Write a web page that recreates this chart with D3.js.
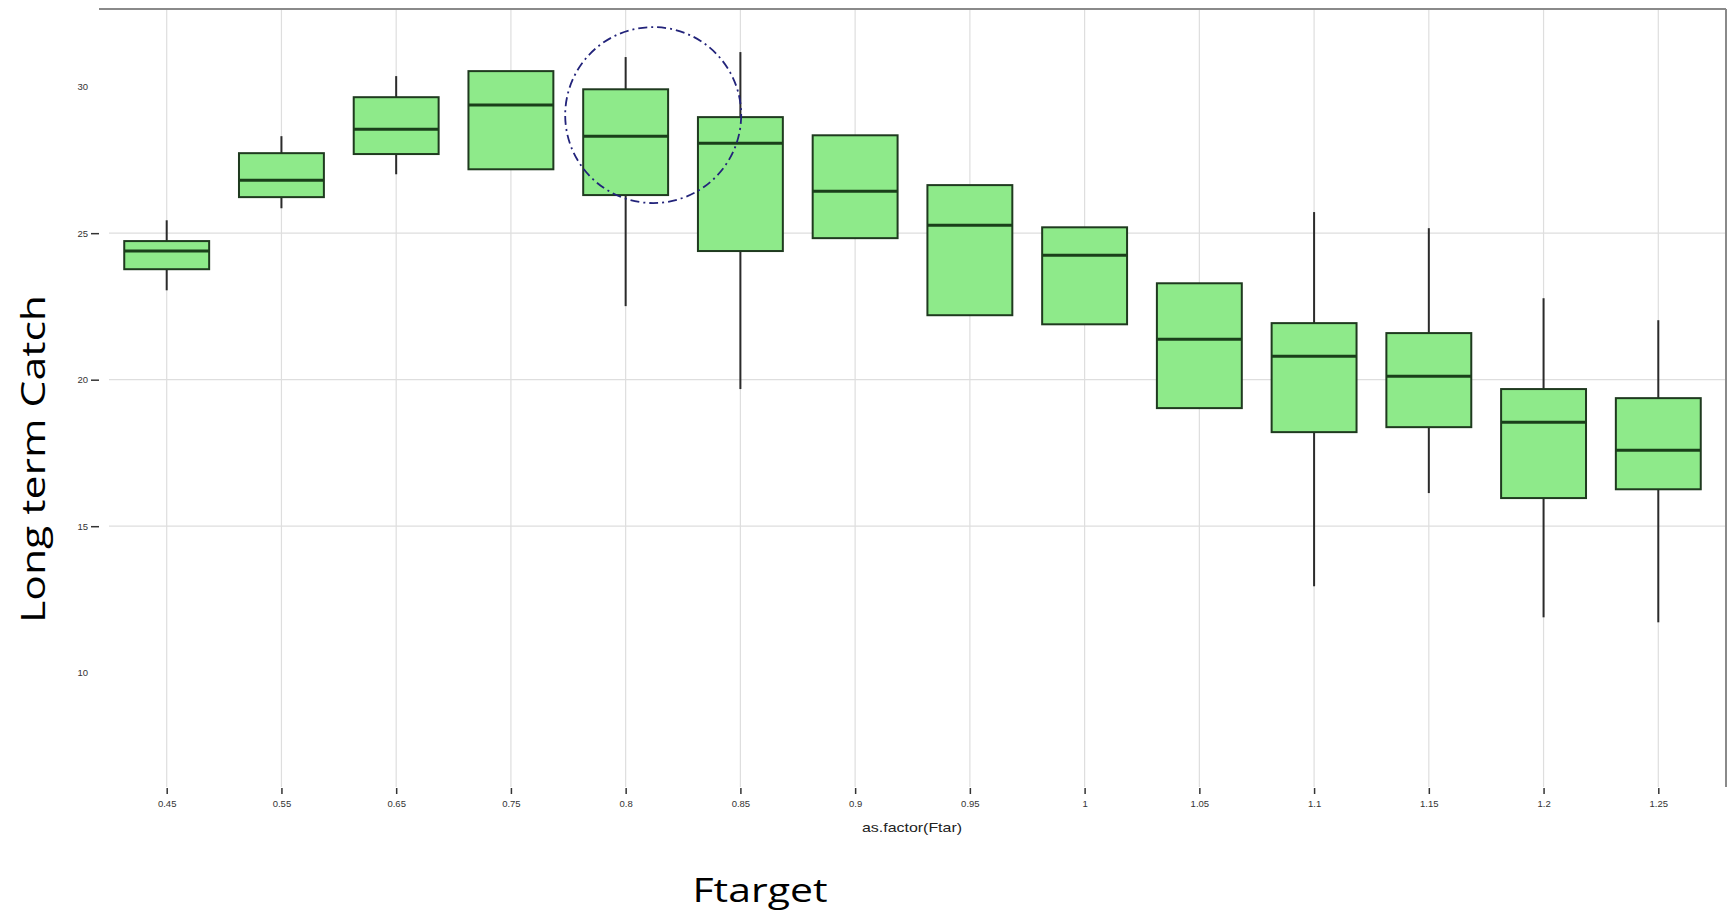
<!DOCTYPE html>
<html>
<head>
<meta charset="utf-8">
<script src="https://cdn.jsdelivr.net/npm/d3@7"></script>
<style>
  html, body { margin: 0; padding: 0; background: #ffffff; overflow: hidden; }
  svg { display: block; }
</style>
</head>
<body>
<svg id="chart" width="1729" height="914"></svg>
<script>
// Ftarget levels and long-term catch distribution per level
const categories = ["0.45", "0.55", "0.65", "0.75", "0.8", "0.85", "0.9", "0.95", "1", "1.05", "1.1", "1.15", "1.2", "1.25"];
const whiskerLow  = [23.05, 25.85, 27.01, 27.18, 22.51, 19.68, 24.83, 22.20, 21.89, 19.03, 12.95, 16.13, 11.89, 11.72];
const q1          = [23.77, 26.23, 27.70, 27.18, 26.30, 24.39, 24.83, 22.20, 21.89, 19.03, 18.21, 18.38, 15.96, 16.26];
const medians     = [24.39, 26.81, 28.55, 29.37, 28.31, 28.07, 26.43, 25.27, 24.25, 21.38, 20.80, 20.12, 18.55, 17.59];
const q3          = [24.73, 27.73, 29.64, 30.53, 29.91, 28.96, 28.34, 26.64, 25.20, 23.29, 21.93, 21.59, 19.68, 19.37];
const whiskerHigh = [25.44, 28.31, 30.36, 30.53, 31.01, 31.18, 28.34, 26.64, 25.20, 23.29, 25.72, 25.17, 22.78, 22.03];

const yTickLabels = [10, 15, 20, 25, 30];
const yGridValues = [15, 20, 25];

// highlighted level (dashed ring)
const highlightCategory = "0.8";
const highlightValue = 29.03;

const boxes = categories.map((c, i) => ({
  cat: c, lo: whiskerLow[i], q1: q1[i], med: medians[i], q3: q3[i], hi: whiskerHigh[i]
}));

const svg = d3.select("#chart");

const panel = { left: 99, right: 1726, top: 9, bottom: 787 };

const x = d3.scalePoint()
  .domain(categories)
  .range([panel.left, panel.right])
  .padding(0.59);

const y = d3.scaleLinear()
  .domain([6.1, 32.65])
  .range([panel.bottom, panel.top]);

const step = x.step();
const boxW = step * 0.74;

// grid lines
const grid = svg.append("g").attr("class", "grid");
grid.selectAll("line.h")
  .data(yGridValues)
  .join("line")
  .attr("class", "h")
  .attr("x1", panel.left + 10).attr("x2", panel.right)
  .attr("y1", d => y(d)).attr("y2", d => y(d))
  .attr("stroke", "#dedede").attr("stroke-width", 1.2);

grid.selectAll("line.v")
  .data(categories)
  .join("line")
  .attr("class", "v")
  .attr("x1", d => x(d)).attr("x2", d => x(d))
  .attr("y1", panel.top).attr("y2", panel.bottom)
  .attr("stroke", "#dedede").attr("stroke-width", 1.2);

// panel frame (top and right edges)
svg.append("line")
  .attr("x1", panel.left).attr("x2", panel.right)
  .attr("y1", panel.top).attr("y2", panel.top)
  .attr("stroke", "#8a8a8a").attr("stroke-width", 2);
svg.append("line")
  .attr("x1", panel.right).attr("x2", panel.right)
  .attr("y1", panel.top).attr("y2", panel.bottom)
  .attr("stroke", "#8a8a8a").attr("stroke-width", 2);

// y axis: labels, ticks only where grid lines run
const yAxis = d3.axisLeft(y)
  .tickValues(yTickLabels)
  .tickSize(8)
  .tickPadding(3)
  .tickFormat(d3.format("d"));
const gy = svg.append("g")
  .attr("transform", `translate(${panel.left},0)`)
  .call(yAxis);
gy.select(".domain").remove();
gy.selectAll(".tick line")
  .attr("stroke", "#333")
  .attr("stroke-width", 1.5)
  .attr("opacity", d => yGridValues.includes(d) ? 1 : 0);
gy.selectAll(".tick text")
  .attr("font-family", "Liberation Sans, Arial, sans-serif")
  .attr("font-size", 9.5)
  .attr("fill", "#333");

// x axis
const xAxis = d3.axisBottom(x).tickSize(6).tickPadding(6);
const gx = svg.append("g")
  .attr("transform", `translate(0,${panel.bottom + 1})`)
  .call(xAxis);
gx.select(".domain").remove();
gx.selectAll(".tick line").attr("stroke", "#333").attr("stroke-width", 1.5);
gx.selectAll(".tick text")
  .attr("font-family", "Liberation Sans, Arial, sans-serif")
  .attr("font-size", 9.5)
  .attr("fill", "#333");

// boxplots
const g = svg.append("g").attr("class", "boxes");
const bx = g.selectAll("g.box").data(boxes).join("g").attr("class", "box");

bx.append("line")
  .attr("x1", d => x(d.cat)).attr("x2", d => x(d.cat))
  .attr("y1", d => y(d.hi)).attr("y2", d => y(d.q3))
  .attr("stroke", "#2b2b2b").attr("stroke-width", 2);
bx.append("line")
  .attr("x1", d => x(d.cat)).attr("x2", d => x(d.cat))
  .attr("y1", d => y(d.q1)).attr("y2", d => y(d.lo))
  .attr("stroke", "#2b2b2b").attr("stroke-width", 2);

bx.append("rect")
  .attr("x", d => x(d.cat) - boxW / 2)
  .attr("width", boxW)
  .attr("y", d => y(d.q3))
  .attr("height", d => y(d.q1) - y(d.q3))
  .attr("fill", "#8eea8a")
  .attr("stroke", "#1f3a1f")
  .attr("stroke-width", 2);

bx.append("line")
  .attr("x1", d => x(d.cat) - boxW / 2).attr("x2", d => x(d.cat) + boxW / 2)
  .attr("y1", d => y(d.med)).attr("y2", d => y(d.med))
  .attr("stroke", "#1a3f1a").attr("stroke-width", 3);

// dashed ring around the highlighted level
svg.append("circle")
  .attr("cx", x(highlightCategory) + step * 0.24)
  .attr("cy", y(highlightValue))
  .attr("r", 88)
  .attr("fill", "none")
  .attr("stroke", "#22237a")
  .attr("stroke-width", 1.8)
  .attr("stroke-dasharray", "9,4,2,4");

// small x-axis caption
svg.append("text")
  .attr("x", 912).attr("y", 832)
  .attr("text-anchor", "middle")
  .attr("font-family", "Liberation Sans, Arial, sans-serif")
  .attr("font-size", 13)
  .attr("textLength", 100)
  .attr("lengthAdjust", "spacingAndGlyphs")
  .attr("fill", "#222")
  .text("as.factor(Ftar)");

// large axis titles
svg.append("text")
  .attr("x", 760).attr("y", 902)
  .attr("text-anchor", "middle")
  .attr("font-family", "'Open Sans', 'Noto Sans', sans-serif")
  .attr("font-size", 33)
  .attr("textLength", 135)
  .attr("lengthAdjust", "spacingAndGlyphs")
  .attr("fill", "#000")
  .text("Ftarget");

svg.append("text")
  .attr("transform", "translate(45,459) rotate(-90)")
  .attr("text-anchor", "middle")
  .attr("font-family", "'Open Sans', 'Noto Sans', sans-serif")
  .attr("font-size", 33)
  .attr("textLength", 328)
  .attr("lengthAdjust", "spacingAndGlyphs")
  .attr("fill", "#000")
  .text("Long term Catch");
</script>
</body>
</html>
